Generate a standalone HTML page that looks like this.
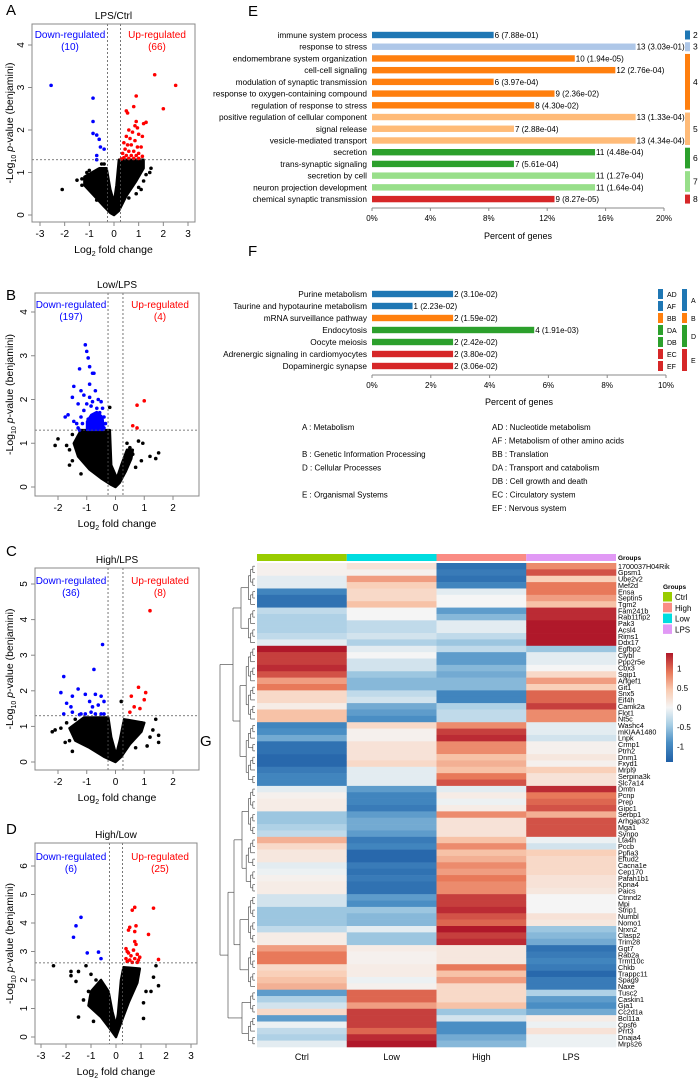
<!DOCTYPE html>
<html><head><meta charset="utf-8"><style>
body{margin:0;background:#fff}
svg{display:block;font-family:"Liberation Sans",Arial,sans-serif}
</style></head><body>
<svg id="fig" width="700" height="1079" viewBox="0 0 700 1079" xmlns="http://www.w3.org/2000/svg"></svg>
<script>
const NS="http://www.w3.org/2000/svg";
const svg=document.getElementById('fig');
function el(tag,attrs,parent,text){const e=document.createElementNS(NS,tag);for(const k in attrs)e.setAttribute(k,attrs[k]);if(text!==undefined)e.textContent=text;(parent||svg).appendChild(e);return e;}

// ---------- Volcano data ----------
const blueA=[[-2.55,3.05],[-0.85,2.75],[-0.85,2.2],[-0.85,1.92],[-0.7,1.88],[-0.6,1.78],[-0.55,1.6],[-0.4,1.55],[-0.7,1.4],[-0.7,1.3]];
const redA=[[1.65,3.3],[2.5,3.05],[2.0,2.5],[0.9,2.8],[0.8,2.55],[0.5,2.45],[0.55,2.4],[1.2,2.15],[1.3,2.18],[0.9,2.2],[0.85,2.1],[0.95,2.05],[0.6,2.0],[0.75,1.95],[1.0,1.9],[1.15,1.85],[0.5,1.85],[0.65,1.8],[0.85,1.75],[0.4,1.7],[0.55,1.65],[0.7,1.65],[0.95,1.6],[1.1,1.6],[0.45,1.55],[0.6,1.5],[0.8,1.5],[1.0,1.45],[0.35,1.45],[0.5,1.4],[0.7,1.4],[0.9,1.4],[1.15,1.38],[0.4,1.35],[0.6,1.33],[0.8,1.33],[1.0,1.33],[0.3,1.32]];
const blackA=[[-2.1,0.6],[-1.5,0.82],[-1.3,0.7],[-1.1,1.0],[-1.0,1.05],[-0.9,0.65],[-0.7,0.35],[-0.5,1.2],[1.5,1.1],[1.45,1.0],[1.2,0.8],[1.1,0.6],[0.9,0.5],[1.3,0.95],[-1.3,0.85],[-0.8,1.0],[-0.4,1.2],[0.6,0.4],[1.0,0.65]];
const cloudA=[[0,0],[0.2,0.1],[0.5,0.45],[0.9,0.8],[1.2,1.1],[1.2,1.3],[0.2,1.3],[0.1,0.7],[0,0.3],[-0.15,0.6],[-0.3,1.1],[-0.6,1.1],[-1.2,0.9],[-1.2,0.7],[-0.8,0.45],[-0.4,0.2],[-0.15,0.05]];

const blueB=[[-1.05,3.25],[-1.0,3.1],[-0.95,2.95],[-0.9,2.75],[-1.25,2.7],[-0.8,2.6],[-0.75,2.6],[-1.45,2.3],[-0.9,2.35],[-1.2,2.2],[-1.1,2.1],[-0.7,2.2],[-0.6,2.0],[-1.5,2.05],[-1.3,1.9],[-1.75,1.6],[-1.65,1.65],[-1.45,1.5],[-1.35,1.45],[-1.2,1.6],[-1.0,1.9],[-0.5,1.95],[-0.45,1.8],[-1.1,1.75],[-0.85,1.85],[-0.65,1.8],[-0.4,1.6],[-0.35,1.45],[-1.3,1.35],[-1.15,1.45],[-0.95,1.55],[-0.75,1.65],[-0.55,1.7],[-1.25,1.3],[-0.4,1.35],[-0.8,1.95],[-0.9,2.05]];
const blueCloudB=[[-1.0,1.3],[-0.4,1.3],[-0.45,1.6],[-0.65,1.72],[-0.85,1.65],[-1.0,1.5]];
const redB=[[1.0,1.97],[0.75,1.87],[0.6,1.4],[0.75,1.35]];
const blackB=[[-2.1,0.95],[-2.0,1.1],[-1.7,0.95],[-1.6,0.5],[-1.5,0.6],[-1.2,0.3],[-0.2,1.82],[0.4,1.0],[0.8,1.05],[0.95,1.0],[1.2,0.7],[1.4,0.65],[1.5,0.78],[0.9,0.6],[0.6,0.75],[-1.6,0.85],[-1.5,1.2],[0.7,0.45],[0.5,0.9]];
const cloudB=[[0,0],[0.15,0.1],[0.35,0.35],[0.55,0.65],[0.6,0.85],[0.4,0.85],[0.2,0.5],[0.05,0.2],[-0.15,0.5],[-0.2,1.3],[-1.2,1.3],[-1.45,1.0],[-1.3,0.7],[-0.9,0.4],[-0.5,0.2],[-0.15,0.05]];

const blueC=[[-0.45,3.3],[-0.75,2.6],[-1.8,2.4],[-1.3,2.05],[-1.9,1.95],[-1.5,1.85],[-1.05,1.9],[-0.7,1.9],[-0.5,1.85],[-0.4,1.7],[-1.7,1.65],[-1.55,1.55],[-0.9,1.7],[-0.8,1.55],[-0.6,1.6],[-1.5,1.4],[-1.8,1.35],[-1.2,1.35],[-1.05,1.35],[-0.85,1.4],[-0.7,1.35],[-0.5,1.35],[-0.4,1.35],[-1.25,1.33]];
const redC=[[1.2,4.25],[0.8,2.1],[1.05,1.95],[0.55,1.85],[1.0,1.75],[0.65,1.55],[0.85,1.5],[0.5,1.4]];
const blackC=[[-2.2,0.85],[-2.1,0.9],[-1.9,0.95],[-1.75,0.55],[-1.6,0.6],[-1.5,0.3],[0.2,1.7],[1.4,1.2],[1.3,0.9],[1.5,0.75],[1.5,0.55],[1.2,0.7],[1.1,0.45],[0.9,1.1],[-1.7,1.1],[-1.4,1.2],[0.7,0.4]];
const cloudC=[[0,0],[0.2,0.15],[0.5,0.5],[0.9,0.85],[1.0,1.1],[0.3,1.2],[0.15,0.6],[0.02,0.2],[-0.15,0.7],[-0.25,1.25],[-1.1,1.25],[-1.6,0.95],[-1.4,0.6],[-0.9,0.4],[-0.4,0.15]];

const blueD=[[-1.4,4.2],[-1.6,3.9],[-1.7,3.5],[-0.7,2.98],[-1.15,2.95],[-0.6,2.75]];
const redD=[[0.75,4.55],[1.5,4.52],[0.65,4.45],[0.55,3.85],[0.8,3.9],[0.5,3.75],[0.75,3.7],[1.3,3.6],[0.75,3.35],[0.8,3.25],[0.4,3.1],[0.45,3.0],[0.5,2.95],[0.7,3.05],[0.85,2.9],[0.6,2.85],[0.95,2.8],[0.4,2.75],[0.55,2.7],[0.75,2.75],[0.9,2.7],[1.7,2.72],[0.45,2.65],[0.65,2.62],[0.85,2.62]];
const blackD=[[-2.5,2.5],[-1.8,2.3],[-1.8,2.15],[-1.6,1.95],[-1.5,2.3],[-1.2,2.5],[-1.0,2.2],[-0.8,2.0],[-0.9,0.55],[-1.5,0.7],[1.6,2.5],[1.5,2.1],[1.7,1.8],[1.2,1.6],[1.1,0.65],[1.4,1.6],[-1.1,1.6],[-1.3,1.3],[1.1,1.2]];
const cloudD=[[0,0],[0.2,0.5],[0.5,1.2],[0.85,1.9],[0.95,2.4],[0.3,2.45],[0.2,2.0],[0.08,0.8],[0,0.4],[-0.15,0.9],[-0.3,1.6],[-0.6,2.0],[-1.0,1.6],[-1.1,1.1],[-0.6,0.7],[-0.25,0.3]];

const volcanoes=[
 {id:'a',letter:'A',lx:6,ly:15,title:'LPS/Ctrl',box:[32,24,195,222],xd:[-3,40,3,188],yd:[0,215,4,45],xt:[-3,-2,-1,0,1,2,3],yt:[0,1,2,3,4],th:1.3,down:10,up:66,dx:70,ux:157,ty:38,blue:blueA,red:redA,black:blackA,cloud:cloudA},
 {id:'b',letter:'B',lx:6,ly:300,title:'Low/LPS',box:[35,293,199,496],xd:[-2,58,2,173],yd:[0,487,4,312],xt:[-2,-1,0,1,2],yt:[0,1,2,3,4],th:1.3,down:197,up:4,dx:71,ux:160,ty:308,blue:blueB,red:redB,black:blackB,cloud:cloudB,bcloud:blueCloudB},
 {id:'c',letter:'C',lx:6,ly:556,title:'High/LPS',box:[35,568,199,770],xd:[-2,58,2,173],yd:[0,762,5,584],xt:[-2,-1,0,1,2],yt:[0,1,2,3,4,5],th:1.3,down:36,up:8,dx:71,ux:160,ty:584,blue:blueC,red:redC,black:blackC,cloud:cloudC},
 {id:'d',letter:'D',lx:6,ly:834,title:'High/Low',box:[35,843,197,1044],xd:[-3,41,3,191],yd:[0,1037,6,866],xt:[-3,-2,-1,0,1,2,3],yt:[0,1,2,3,4,5,6],th:2.6,down:6,up:25,dx:71,ux:160,ty:860,blue:blueD,red:redD,black:blackD,cloud:cloudD}
];

// ---------- GO (E) data ----------
const termsE=['immune system process','response to stress','endomembrane system organization','cell-cell signaling','modulation of synaptic transmission','response to oxygen-containing compound','regulation of response to stress','positive regulation of cellular component','signal release','vesicle-mediated transport','secretion','trans-synaptic signaling','secretion by cell','neuron projection development','chemical synaptic transmission'];
const countsE=[6,13,10,12,6,9,8,13,7,13,11,7,11,11,9];
const pvalsE=['7.88e-01','3.03e-01','1.94e-05','2.76e-04','3.97e-04','2.36e-02','4.30e-02','1.33e-04','2.88e-04','4.34e-04','4.48e-04','5.61e-04','1.27e-04','1.64e-04','8.27e-05'];
const groupsE=[2,3,4,4,4,4,4,5,5,5,6,6,7,7,8];
const totalE=72;
const ticksE=[0,4,8,12,16,20];

// ---------- KEGG (F) data ----------
const termsF=['Purine metabolism','Taurine and hypotaurine metabolism','mRNA surveillance pathway','Endocytosis','Oocyte meiosis','Adrenergic signaling in cardiomyocytes','Dopaminergic synapse'];
const countsF=[2,1,2,4,2,2,2];
const pvalsF=['3.10e-02','2.23e-02','1.59e-02','1.91e-03','2.42e-02','3.80e-02','3.06e-02'];
const subF=['AD','AF','BB','DA','DB','EC','EF'];
const totalF=72.5;
const ticksF=[0,2,4,6,8,10];

// ---------- Heatmap (G) data ----------
const genes=['1700037H04Rik','Gpsm1','Ube2v2','Mef2d','Ensa','Septin5','Tgm2','Fam241b','Rab11fip2','Pak3','Acsl4','Rims1','Ddx17','Egfbp2','Clybl','Ppp2r5e','Cbx3','Sgip1','Arfgef1','Git1','Snx5','Eif4h','Camk2a','Flot1','Nt5c','Washc4','mKIAA1480','Lnpk','Crmp1','Ptrh2','Dnm1','Fxyd1','Mrpl9','Serpina3k','Slc7a14','Dmtn','Pcnp','Prep','Gipc1','Serbp1','Arhgap32','Mga1','Synpo','Lta4h','Pccb','Ppfia3','Eftud2','Cacna1e','Cep170','Pafah1b1','Kpna4','Paics','Ctnnd2','Mpi','Strip1','Numbl','Nomo1','Nrxn2','Clasp2','Trim28','Ggt7','Rab2a','Trmt10c','Chkb','Trappc11','Spag9','Naxe','Tusc2','Caskin1','Gja1','Cc2d1a','Bcl11a','Cpsf6','Prrt3','Dnaja4','Mrps26'];
const groupsG=['Ctrl','Low','High','LPS'];
const ctrlV=[0.05,0.05,-0.1,-0.1,-1.0,-1.2,-1.2,-0.3,-0.4,-0.4,-0.4,-0.3,-0.1,1.4,1.2,1.2,1.3,1.1,0.7,0.9,0.3,0.3,0.1,0.5,0.5,-1.0,-0.9,-0.7,-1.2,-1.2,-1.3,-1.3,-1.1,-1.0,-1.0,-0.1,0.05,0.1,0.1,-0.5,-0.5,-0.4,-0.3,0.6,0.3,0.15,0.15,-0.1,-0.05,0.05,0.1,0.1,-0.2,-0.2,-0.5,-0.5,-0.5,-0.3,0.1,0.1,0.7,0.9,0.9,0.3,0.4,0.5,0.6,-0.8,-0.4,-0.2,0.3,-0.8,-0.05,-0.3,-0.4,-0.1];
const lowV=[0.2,0.05,0.7,0.4,0.3,0.3,0.5,0.0,0.0,-0.3,-0.3,-0.2,-0.4,-0.1,0.0,-0.2,-0.2,-0.5,-0.6,-0.6,-0.3,-0.2,-0.7,-0.8,-0.9,0.3,0.05,0.05,0.2,0.2,0.2,0.3,-0.1,-0.1,-0.1,-0.8,-1.0,-1.0,-1.1,-0.8,-0.7,-0.7,-0.8,-1.1,-1.0,-1.3,-1.3,-1.1,-1.2,-1.1,-1.2,-1.2,-0.8,-0.9,-0.5,-0.6,-0.6,-0.1,-0.5,-0.5,0.1,0.05,0.05,0.1,0.1,-0.05,0.05,1.0,1.0,0.7,1.2,1.2,1.2,1.0,1.3,1.4];
const highV=[-1.2,-1.1,-1.2,-1.0,-0.1,0.0,0.0,-0.8,-0.6,-0.1,-0.1,-0.3,-0.5,-0.3,-0.8,-0.8,-0.6,-0.7,-0.6,-0.6,-1.0,-1.0,-0.4,-0.3,-0.3,0.8,1.2,1.3,0.8,0.8,0.5,0.6,0.5,0.9,1.1,-0.1,0.1,-0.05,0.1,0.8,0.2,0.2,0.2,0.5,0.8,0.5,0.6,0.8,0.7,0.9,0.8,0.8,1.2,1.2,1.3,1.1,1.0,1.4,1.2,1.3,0.15,0.15,0.15,0.9,0.5,0.7,0.3,0.3,0.3,0.5,-0.5,-0.2,-0.9,-0.9,-0.7,-0.6];
const lpsV=[0.8,1.1,0.4,0.9,0.9,0.7,0.5,1.3,1.3,1.4,1.4,1.4,1.4,-0.5,-0.1,-0.1,0.0,0.3,0.7,0.4,1.0,1.0,1.2,0.8,0.8,-0.1,-0.1,-0.2,0.05,0.05,0.15,0.05,0.4,0.2,0.2,1.3,0.9,1.0,1.1,0.6,1.1,1.1,1.1,-0.05,-0.2,0.4,0.3,0.3,0.3,0.2,0.2,0.15,0.0,0.0,0.0,0.2,0.15,-0.5,-0.6,-0.7,-1.2,-1.1,-1.0,-1.1,-1.3,-1.1,-1.1,-0.4,-0.8,-0.9,-0.7,0.1,-0.05,0.2,-0.05,-0.05];
const clusterBreaks=[0,7,13,25,35,43,52,60,67,71,76];
const cbTicks=[1,0.5,0,-0.5,-1];

// ================= draw volcanoes =================
volcanoes.forEach(v=>{
  const g=el('g',{});
  const sx=x=>v.xd[1]+(x-v.xd[0])*(v.xd[3]-v.xd[1])/(v.xd[2]-v.xd[0]);
  const sy=y=>v.yd[1]+(y-v.yd[0])*(v.yd[3]-v.yd[1])/(v.yd[2]-v.yd[0]);
  const [x0,y0,x1,y1]=v.box;
  el('text',{x:v.lx,y:v.ly,'font-size':15,},g,v.letter);
  el('text',{x:(x0+x1)/2,y:y0-5,'font-size':10,'text-anchor':'middle',},g,v.title);
  const pts=p=>p.map(q=>sx(q[0]).toFixed(1)+','+sy(q[1]).toFixed(1)).join(' ');
  const cl=el('polygon',{points:pts(v.cloud),fill:'#000',stroke:'#000','stroke-width':2.5,'stroke-linejoin':'round'},g);
  
  if(v.bcloud){const bc=el('polygon',{points:pts(v.bcloud),fill:'#0000ff',stroke:'#0000ff','stroke-width':2,'stroke-linejoin':'round'},g);}
  [[v.black,'#000','point-ns'],[v.blue,'#0000ff','point-down'],[v.red,'#ff0000','point-up']].forEach(([arr,c,n])=>{
    arr.forEach(p=>{const d=el('circle',{cx:sx(p[0]),cy:sy(p[1]),r:1.8,fill:c},g);
      
      });
  });
  el('line',{x1:x0,x2:x1,y1:sy(v.th),y2:sy(v.th),stroke:'#555','stroke-dasharray':'2,2','stroke-width':0.8,},g);
  [-0.26,0.26].forEach(t=>el('line',{x1:sx(t),x2:sx(t),y1:y0,y2:y1,stroke:'#555','stroke-dasharray':'2,2','stroke-width':0.8,},g));
  el('rect',{x:x0,y:y0,width:x1-x0,height:y1-y0,fill:'none',stroke:'#888','stroke-width':1,},g);
  v.xt.forEach(t=>{el('line',{x1:sx(t),x2:sx(t),y1:y1,y2:y1+4,stroke:'#888'},g);
    el('text',{x:sx(t),y:y1+15,'font-size':10,'text-anchor':'middle',},g,t);});
  v.yt.forEach(t=>{el('line',{x1:x0,x2:x0-4,y1:sy(t),y2:sy(t),stroke:'#888'},g);
    el('text',{x:x0-8,y:sy(t),'font-size':10,'text-anchor':'middle',transform:`rotate(-90 ${x0-8} ${sy(t)})`,},g,t);});
  const xt=el('text',{x:(x0+x1)/2,y:y1+31,'font-size':10.5,'text-anchor':'middle',},g);
  xt.innerHTML='Log<tspan font-size="7" dy="3">2</tspan><tspan dy="-3"> fold change</tspan>';
  const cy=(y0+y1)/2;
  const yt=el('text',{x:13,y:cy,'font-size':10.5,'text-anchor':'middle',transform:`rotate(-90 13 ${cy})`,},g);
  yt.innerHTML='-Log<tspan font-size="7" dy="3">10</tspan><tspan dy="-3"> </tspan><tspan font-style="italic">p</tspan>-value (benjamini)';
  el('text',{x:v.dx,y:v.ty,'font-size':10,fill:'#0000ff','text-anchor':'middle',},g,'Down-regulated');
  el('text',{x:v.dx,y:v.ty+12,'font-size':10,fill:'#0000ff','text-anchor':'middle',},g,'('+v.down+')');
  el('text',{x:v.ux,y:v.ty,'font-size':10,fill:'#ff0000','text-anchor':'middle',},g,'Up-regulated');
  el('text',{x:v.ux,y:v.ty+12,'font-size':10,fill:'#ff0000','text-anchor':'middle',},g,'('+v.up+')');
});

// ================= E =================
const colE={2:'#1f77b4',3:'#aec7e8',4:'#ff7f0e',5:'#ffbb78',6:'#2ca02c',7:'#98df8a',8:'#d62728'};
(function(){
  const g=el('g',{});
  el('text',{x:248,y:16,'font-size':15,},g,'E');
  const sx=p=>372+p*14.6, ry=i=>35+i*11.72;
  termsE.forEach((t,i)=>{
    const pct=countsE[i]/totalE*100, y=ry(i);
    el('text',{x:367,y:y+3,'font-size':8.3,'text-anchor':'end',},g,t);
    const b=el('rect',{x:sx(0),y:y-3.2,width:sx(pct)-sx(0),height:6.4,fill:colE[groupsE[i]]},g);
    
    
    el('text',{x:sx(pct)+1,y:y+3,'font-size':8,},g,countsE[i]+' ('+pvalsE[i]+')');
  });
  el('line',{x1:sx(0),x2:sx(20),y1:208,y2:208,stroke:'#888'},g);
  ticksE.forEach(t=>{el('line',{x1:sx(t),x2:sx(t),y1:208,y2:211,stroke:'#888'},g);
    el('text',{x:sx(t),y:221,'font-size':8,'text-anchor':'middle',},g,t+'%');});
  el('text',{x:sx(10),y:239,'font-size':9,'text-anchor':'middle',},g,'Percent of genes');
  const grps=[...new Set(groupsE)];
  grps.forEach(gr=>{
    const idx=groupsE.map((v,i)=>v===gr?i:-1).filter(i=>i>=0);
    const top=ry(idx[0])-4.5, bot=ry(idx[idx.length-1])+4.5;
    el('rect',{x:685,y:top,width:5,height:bot-top,fill:colE[gr],},g);
    el('text',{x:693,y:(top+bot)/2+3,'font-size':8.5,},g,gr);
  });
})();

// ================= F =================
const colF={A:'#1f77b4',B:'#ff7f0e',D:'#2ca02c',E:'#d62728'};
(function(){
  const g=el('g',{});
  el('text',{x:248,y:256,'font-size':15,},g,'F');
  const sx=p=>372+p*29.4, ry=i=>294+i*12;
  termsF.forEach((t,i)=>{
    const pct=countsF[i]/totalF*100, y=ry(i);
    el('text',{x:367,y:y+3,'font-size':8.3,'text-anchor':'end',},g,t);
    const b=el('rect',{x:sx(0),y:y-3.2,width:sx(pct)-sx(0),height:6.4,fill:colF[subF[i][0]]},g);
    
    
    el('text',{x:sx(pct)+1,y:y+3,'font-size':8,},g,countsF[i]+' ('+pvalsF[i]+')');
    el('rect',{x:658,y:y-5,width:5,height:10,fill:colF[subF[i][0]],},g);
    el('text',{x:667,y:y+3,'font-size':7,},g,subF[i]);
  });
  ['A','B','D','E'].forEach(c=>{
    const idx=subF.map((v,i)=>v[0]===c?i:-1).filter(i=>i>=0);
    const top=ry(idx[0])-5, bot=ry(idx[idx.length-1])+5;
    el('rect',{x:682,y:top,width:5,height:bot-top,fill:colF[c],},g);
    el('text',{x:691,y:(top+bot)/2+3,'font-size':7,},g,c);
  });
  el('line',{x1:sx(0),x2:sx(10),y1:375,y2:375,stroke:'#888'},g);
  ticksF.forEach(t=>{el('line',{x1:sx(t),x2:sx(t),y1:375,y2:378,stroke:'#888'},g);
    el('text',{x:sx(t),y:388,'font-size':8,'text-anchor':'middle',},g,t+'%');});
  el('text',{x:sx(5),y:405,'font-size':9,'text-anchor':'middle',},g,'Percent of genes');
  const left=[['A : Metabolism',0],['B : Genetic Information Processing',2],['D : Cellular Processes',3],['E : Organismal Systems',5]];
  const right=['AD : Nucleotide metabolism','AF : Metabolism of other amino acids','BB : Translation','DA : Transport and catabolism','DB : Cell growth and death','EC : Circulatory system','EF : Nervous system'];
  left.forEach(([t,r])=>el('text',{x:302,y:430+r*13.5,'font-size':8,},g,t));
  right.forEach((t,r)=>el('text',{x:492,y:430+r*13.5,'font-size':8,},g,t));
})();

// ================= G heatmap =================
(function(){
  const g=el('g',{});
  el('text',{x:200,y:746,'font-size':15,},g,'G');
  const X0=257,CW=89.75,Y0=563,RH=(1047-563)/genes.length;
  const stops=[[-1.4,[31,95,166]],[-0.9,[74,142,196]],[-0.45,[166,205,228]],[0,[245,245,245]],[0.45,[249,203,177]],[0.9,[232,121,90]],[1.4,[176,24,42]]];
  function col(v){v=Math.max(-1.4,Math.min(1.4,v));for(let i=0;i<stops.length-1;i++){const [a,ca]=stops[i],[b,cb]=stops[i+1];if(v<=b){const t=(v-a)/(b-a);return 'rgb('+ca.map((c,k)=>Math.round(c+(cb[k]-c)*t)).join(',')+')';}}return 'rgb(176,24,42)';}
  const gcol={Ctrl:'#99cc00',Low:'#00dde0',High:'#fa8c84',LPS:'#e199f5'};
  const cols=[ctrlV,lowV,highV,lpsV];
  groupsG.forEach((gr,c)=>{
    el('rect',{x:X0+c*CW,y:554,width:CW,height:7,fill:gcol[gr],},g);
    el('text',{x:X0+c*CW+CW/2,y:1060,'font-size':9,'text-anchor':'middle',},g,gr);
    cols[c].forEach((v,r)=>{
      const cell=el('rect',{x:X0+c*CW,y:Y0+r*RH,width:CW+0.3,height:RH+0.3,fill:col(v)},g);
      
      
    });
  });
  el('text',{x:618,y:560,'font-size':6.5,'font-weight':'bold',},g,'Groups');
  genes.forEach((n,r)=>el('text',{x:618,y:Y0+r*RH+RH*0.5+2.6,'font-size':7.2,},g,n));
  el('text',{x:663,y:589,'font-size':6.5,'font-weight':'bold',},g,'Groups');
  ['Ctrl','High','Low','LPS'].forEach((n,i)=>{
    el('rect',{x:663,y:592+i*10.8,width:9,height:9.5,fill:gcol[n],},g);
    el('text',{x:675,y:600+i*10.8,'font-size':8,},g,n);
  });
  const defs=el('defs',{},g);
  const lg=el('linearGradient',{id:'cb',x1:0,y1:1,x2:0,y2:0},defs);
  stops.forEach(([v,c])=>el('stop',{offset:((v+1.4)/2.8*100)+'%','stop-color':'rgb('+c.join(',')+')'},lg));
  el('rect',{x:666,y:653,width:7,height:109,fill:'url(#cb)',},g);
  const cby=v=>707.5-v*38.9;
  cbTicks.forEach(t=>el('text',{x:677,y:cby(t)+3,'font-size':8,},g,t));
  const dx=h=>257-h;
  function seg(x1,y1,x2,y2){el('line',{x1,y1,x2,y2,stroke:'#555','stroke-width':0.7,},g);}
  function join(a,b,h){seg(dx(a.h),a.y,dx(h),a.y);seg(dx(b.h),b.y,dx(h),b.y);seg(dx(h),a.y,dx(h),b.y);return {y:(a.y+b.y)/2,h};}
  function build(a,b){ if(a===b) return {y:Y0+a*RH+RH/2,h:2}; const m=Math.floor((a+b)/2); const L=build(a,m),R=build(m+1,b); return join(L,R,Math.max(L.h,R.h)+2.2);}
  const cl=[];for(let i=0;i<clusterBreaks.length-1;i++)cl.push(build(clusterBreaks[i],clusterBreaks[i+1]-1));
  const c01=join(cl[0],cl[1],16),c23=join(cl[2],cl[3],17),c45=join(cl[4],cl[5],15),c67=join(cl[6],cl[7],17),c89=join(cl[8],cl[9],15);
  const t1=join(c01,c23,24),t2=join(c45,c67,23);const t3=join(t2,c89,29);join(t1,t3,37);
})();
</script>
</body></html>
